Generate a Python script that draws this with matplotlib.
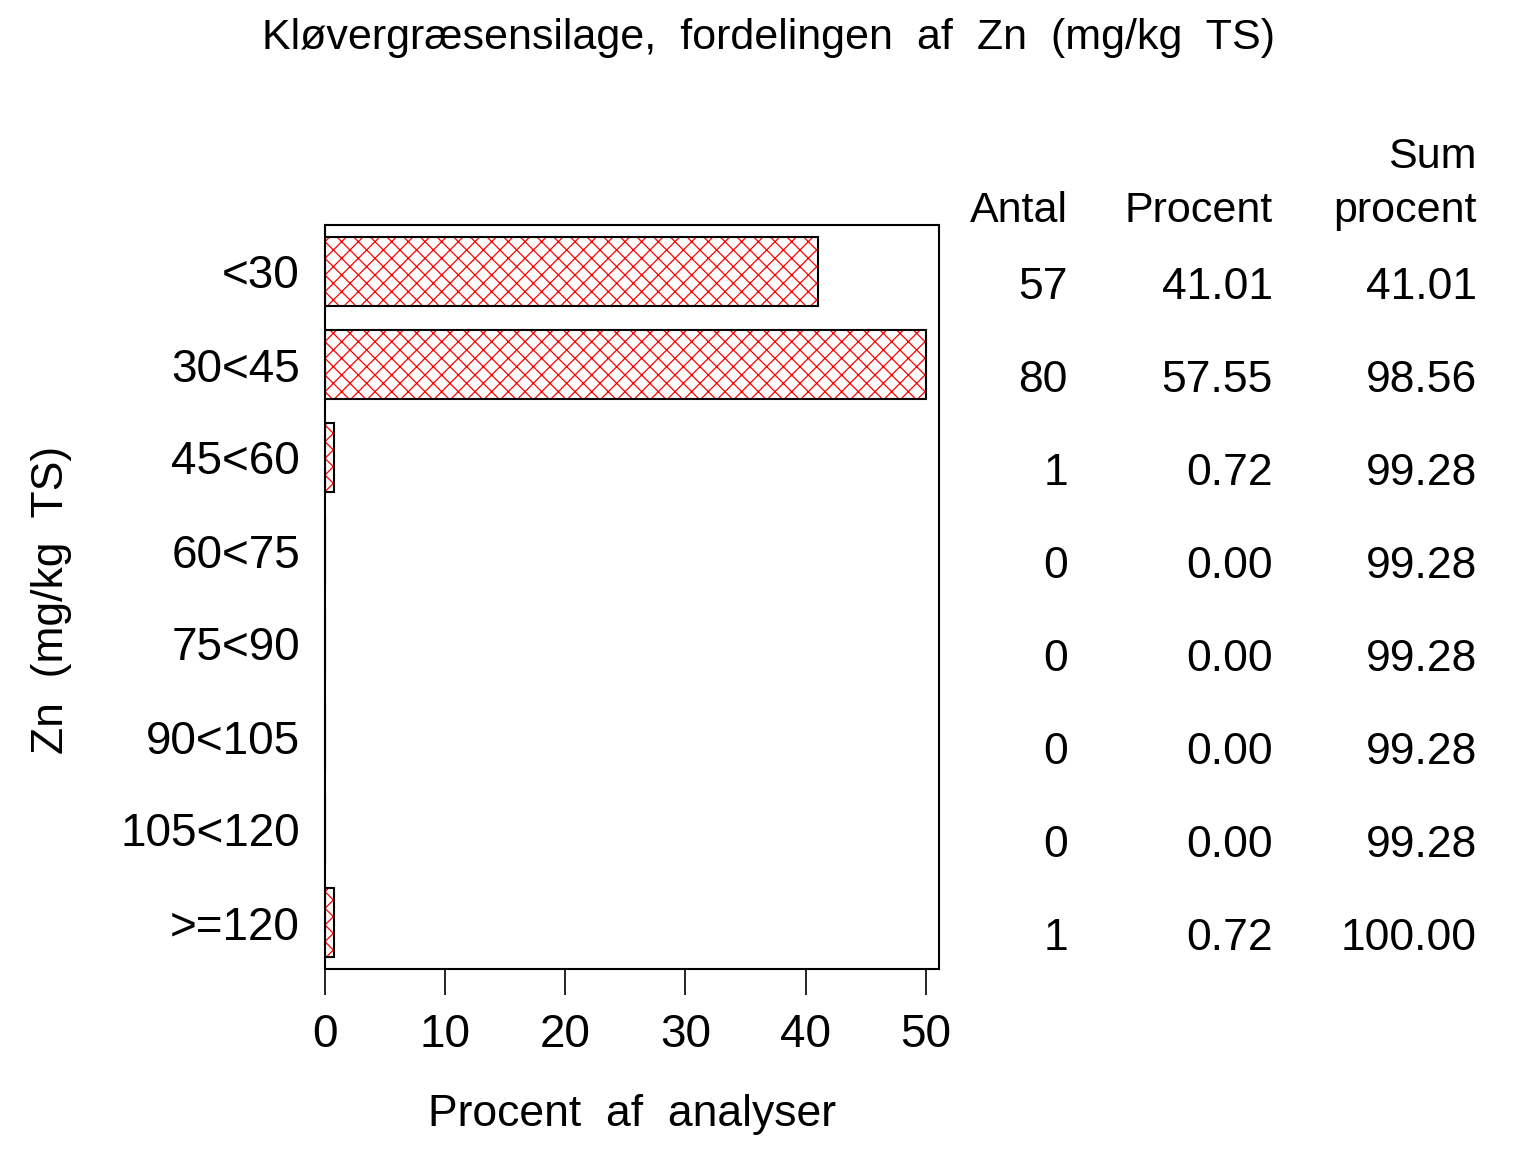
import numpy as np
import matplotlib.pyplot as plt
from matplotlib import transforms

plt.rcParams['font.family'] = ['Liberation Sans', 'DejaVu Sans']
plt.rcParams['hatch.linewidth'] = 0.9

# Data
klasser = ["<30", "30<45", "45<60", "60<75", "75<90", "90<105", "105<120", ">=120"]
antal = [57, 80, 1, 0, 0, 0, 0, 1]
procent = [41.01, 57.55, 0.72, 0.00, 0.00, 0.00, 0.00, 0.72]
sum_procent = [41.01, 98.56, 99.28, 99.28, 99.28, 99.28, 99.28, 100.00]
xticks = [0, 10, 20, 30, 40, 50]

W, H = 1536, 1152
fig = plt.figure(figsize=(W / 100, H / 100), dpi=100)
ax = fig.add_axes([325 / W, 1 - 969 / H, (939 - 325) / W, (969 - 225) / H])

y = np.arange(len(klasser))
# the axis stops at 50, longer bars are cut there
vis = np.minimum(procent, 50)
ax.barh(y, vis, height=0.75, color='white', edgecolor='red', linewidth=0, hatch='xx')
ax.barh(y, vis, height=0.75, fill=False, edgecolor='black', linewidth=1.5)

ax.set_xlim(0, 51.1)
ax.set_ylim(len(klasser) - 0.5, -0.5)
ax.set_xticks(xticks)
ax.set_yticks(y)
ax.set_yticklabels(klasser, fontsize=33)
ax.set_xticklabels([str(v) for v in xticks], fontsize=33)
ax.tick_params(axis='y', length=0, pad=18)
ax.tick_params(axis='x', length=19, width=1.2, pad=13, direction='out')
for s in ax.spines.values():
    s.set_linewidth(1.5)

ax.set_xlabel("Procent  af  analyser", fontsize=32, labelpad=26)
fig.text(52 / W, 1 - 600 / H, "Zn  (mg/kg  TS)", rotation=90, fontsize=32,
         ha='center', va='center')
fig.text(768 / W, 1 - 38 / H, "Kløvergræsensilage,  fordelingen  af  Zn  (mg/kg  TS)",
         fontsize=31, ha='center', va='center')

# table to the right of the plot
trans = transforms.blended_transform_factory(fig.transFigure, ax.transData)
cols = [1068, 1273, 1477]
fig.text(cols[0] / W, 1 - 211 / H, "Antal", fontsize=31, ha='right', va='center')
fig.text(cols[1] / W, 1 - 211 / H, "Procent", fontsize=31, ha='right', va='center')
fig.text(cols[2] / W, 1 - 211 / H, "procent", fontsize=31, ha='right', va='center')
fig.text(cols[2] / W, 1 - 157 / H, "Sum", fontsize=31, ha='right', va='center')
for i in range(len(klasser)):
    yy = i + 0.17
    for c, txt in zip(cols, [f"{antal[i]}", f"{procent[i]:.2f}", f"{sum_procent[i]:.2f}"]):
        ax.text(c / W, yy, txt, transform=trans, fontsize=32,
                ha='right', va='center', clip_on=False)

fig.savefig("out.png", dpi=100)
